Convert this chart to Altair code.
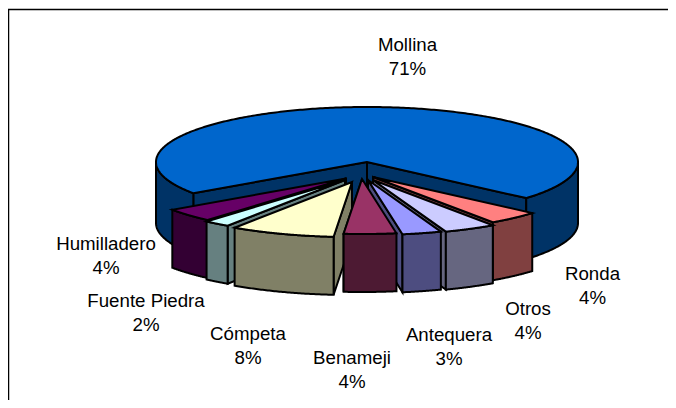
import numpy as np
import altair as alt

categories = ["Mollina", "Ronda", "Otros", "Antequera", "Benameji", "Cómpeta", "Fuente Piedra", "Humilladero"]
shares = [71, 4, 4, 3, 4, 8, 2, 4]
top_colors = ["#0066CC", "#FF8080", "#CCCCFF", "#9999FF", "#993366", "#FFFFCC", "#CCFFFF", "#660066"]
wall_colors = ["#003366", "#804040", "#666680", "#4D4D80", "#4D1A33", "#808066", "#668080", "#330033"]

# drawing constants (pixels on the page)
CX, CY, R, TILT = 367, 162, 211, 55 / 211
DEPTH_MAIN, DEPTH_SLICE = 61, 58
START = 41.0
shift = {"Mollina": (0, 0), "Ronda": (6, 15), "Otros": (6, 18), "Antequera": (1, 18), "Benameji": (-5, 17),
         "Cómpeta": (-15, 20), "Fuente Piedra": (-22, 18), "Humilladero": (-21, 16.5)}
label_pos = {"Mollina": (407.5, 45), "Ronda": (592.5, 274), "Otros": (528, 309), "Antequera": (449, 335),
             "Benameji": (352, 358), "Cómpeta": (248, 334), "Fuente Piedra": (146, 301), "Humilladero": (106, 244)}

# angles (clockwise from east) from shares
angles = {}
a = START
for name, s in list(zip(categories, shares))[1:]:
    angles[name] = (a, a + s * 3.6)
    a += s * 3.6
angles["Mollina"] = (a, START + 360)


def pt(ang, ox=0.0, oy=0.0, d=0.0):
    t = np.radians(ang)
    return [float(np.cos(t) + ox / R), float(np.sin(t) * TILT + (oy + d) / R)]


def arc(a0, a1, ox, oy, d=0.0, n=60):
    return [pt(x, ox, oy, d) for x in np.linspace(a0, a1, n)]


def poly(points, fill):
    return {"type": "Feature", "properties": {"fill": fill},
            "geometry": {"type": "Polygon", "coordinates": [points + [points[0]]]}}


def centre(ox, oy, d=0.0):
    return [ox / R, (oy + d) / R]


def slice_parts(name):
    i = categories.index(name)
    top, wall = top_colors[i], wall_colors[i]
    a0, a1 = angles[name]
    ox, oy = shift[name]
    depth = DEPTH_MAIN if name == "Mollina" else DEPTH_SLICE
    parts = []
    # cut face(s)
    for e in ([a0, a1] if name == "Mollina" else ([a1] if (a0 + a1) / 2 < 90 else [a0])):
        parts.append(poly([centre(ox, oy), pt(e, ox, oy), pt(e, ox, oy, depth), centre(ox, oy, depth)], wall))
    # outer wall: only the front half shows
    if name == "Mollina":
        parts.append(poly(arc(0, START, ox, oy) + arc(START, 0, ox, oy, depth), wall))
        parts.append(poly(arc(a0, 180, ox, oy) + arc(180, a0, ox, oy, depth), wall))
    else:
        parts.append(poly(arc(a0, a1, ox, oy) + arc(a1, a0, ox, oy, depth), wall))
    # top face
    parts.append(poly([centre(ox, oy)] + arc(a0, a1, ox, oy, n=120 if name != "Mollina" else 360), top))
    return parts


order = ["Mollina", "Humilladero", "Fuente Piedra", "Cómpeta", "Ronda", "Otros", "Antequera", "Benameji"]
features = [f for name in order for f in slice_parts(name)]

proj = dict(type="identity", scale=R, translate=[CX - 8, CY - 8])

pie = alt.Chart(alt.Data(values=features)).mark_geoshape(
    stroke="black", strokeWidth=2, strokeJoin="miter"
).encode(fill=alt.Fill("properties.fill:N", scale=None)).project(**proj)

labels = [{"lon": (label_pos[c][0] - CX) / R, "lat": (label_pos[c][1] - CY) / R,
           "text": f"{c}\n{s}%"} for c, s in zip(categories, shares)]

text = alt.Chart(alt.Data(values=labels)).mark_text(
    font="Liberation Sans", fontSize=18.7, lineBreak="\n", lineHeight=24, color="black", align="center"
).encode(longitude="lon:Q", latitude="lat:Q", text="text:N").project(**proj)

frame_top = alt.Chart(alt.Data(values=[{"a": 0}])).mark_rule(color="black", strokeWidth=1.5).encode(
    x=alt.value(0), x2=alt.value(660), y=alt.value(1.5))
frame_left = alt.Chart(alt.Data(values=[{"a": 0}])).mark_rule(color="black", strokeWidth=1.5).encode(
    y=alt.value(1), y2=alt.value(392), x=alt.value(0.5))

chart = alt.layer(pie, text, frame_top, frame_left).properties(
    width=660, height=392, padding=0, autosize=alt.AutoSizeParams(type="none"), background="white"
).configure_view(stroke=None)

chart.save("out.html", embed_options={"renderer": "svg", "actions": False})
